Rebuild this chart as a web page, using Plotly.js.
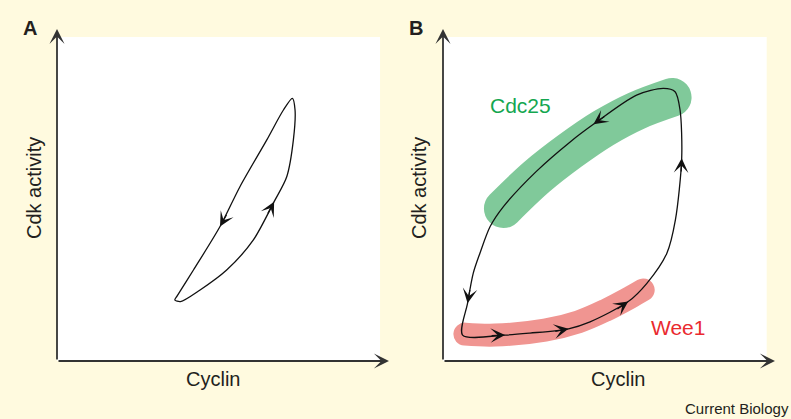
<!DOCTYPE html>
<html>
<head>
<meta charset="utf-8">
<script src="https://cdn.plot.ly/plotly-3.0.1.min.js"></script>
<style>html,body{margin:0;padding:0;background:#fffadf;}#chart{width:791px;height:419px;}</style>
</head>
<body>
<div id="chart"></div>
<script>
// ---- Data (schematic units: Cyclin on x, Cdk activity on y, 0..10) ----
// Panel A loop
const loopA_x = [3.55, 3.72, 4.31, 5.11, 5.91, 6.54, 6.92, 7.12, 7.17, 7.09, 6.82, 6.32, 5.51, 4.91, 4.11, 3.62, 3.55];
const loopA_y = [1.84, 1.79, 2.14, 2.74, 3.64, 4.80, 5.55, 6.66, 7.56, 7.91, 7.56, 6.66, 5.25, 4.05, 2.74, 1.96, 1.84];
const arrowsA = [5, 13];

// Panel B loop
const loopB_x = [0.59, 1.87, 2.62, 3.78, 4.43, 5.58, 6.14, 6.74, 7.00, 7.19, 7.14, 6.99, 6.64, 5.83, 4.53, 3.83, 2.82, 1.82, 1.42, 1.11, 0.91, 0.74, 0.59];
const loopB_y = [0.78, 0.78, 0.84, 0.97, 1.18, 1.79, 2.34, 3.24, 4.25, 6.11, 7.56, 8.11, 8.21, 8.01, 7.13, 6.60, 5.72, 4.65, 4.05, 3.24, 2.64, 1.74, 0.78];
const arrowsB = [1, 3, 5, 9, 14, 21];

// Regulator bands (centre lines)
const cdc25_x = [1.82, 2.82, 3.83, 4.83, 5.83, 6.90];
const cdc25_y = [4.59, 5.54, 6.33, 7.01, 7.54, 7.94];
const wee1_x = [0.66, 1.57, 3.07, 4.08, 4.88, 5.68, 6.03];
const wee1_y = [0.81, 0.78, 0.93, 1.18, 1.52, 1.94, 2.14];

const panelLabels = ['A', 'B'];
const xTitle = 'Cyclin';
const yTitle = 'Cdk activity';
const bandLabels = ['Cdc25', 'Wee1'];
const credit = 'Current Biology';

// ---- Layout helpers ----
const W = 791, H = 419;
const px = v => v / W;
const py = v => 1 - v / H;
const FONT = 'Liberation Sans, Arial, Helvetica, sans-serif';
const TXT = '#231f20';

function band(x, y, color, width, xa, ya) {
  return {
    type: 'scatter', mode: 'lines', x: x, y: y, xaxis: xa, yaxis: ya,
    line: {color: color, width: width, shape: 'spline', smoothing: 1},
    hoverinfo: 'skip', showlegend: false
  };
}
function loop(x, y, xa, ya) {
  return {
    type: 'scatter', mode: 'lines', x: x, y: y, xaxis: xa, yaxis: ya,
    line: {color: '#111', width: 1.3, shape: 'spline', smoothing: 0.8},
    hoverinfo: 'skip', showlegend: false
  };
}
function curveArrows(x, y, idx, xr, yr) {
  return idx.map(i => {
    const dx = x[i + 1] - x[i - 1], dy = y[i + 1] - y[i - 1];
    const n = Math.hypot(dx, dy), L = 0.45;
    return {
      x: x[i], y: y[i], ax: x[i] - L * dx / n, ay: y[i] - L * dy / n,
      xref: xr, yref: yr, axref: xr, ayref: yr, text: '',
      showarrow: true, arrowhead: 3, arrowsize: 1.95, arrowwidth: 1.25,
      arrowcolor: '#111', standoff: 0
    };
  });
}
function axisArrows(xr, yr) {
  const base = {xref: xr, yref: yr, axref: xr, ayref: yr, text: '', showarrow: true,
    arrowhead: 3, arrowsize: 1.4, arrowwidth: 1.8, arrowcolor: '#333', standoff: 0};
  return [
    Object.assign({}, base, {x: 10, y: 0, ax: 0, ay: 0}),
    Object.assign({}, base, {x: 0, y: 10, ax: 0, ay: 0})
  ];
}
function txt(t, x, y, size, color, extra) {
  return Object.assign({text: t, x: px(x), y: py(y), xref: 'paper', yref: 'paper',
    xanchor: 'center', yanchor: 'middle',
    showarrow: false, font: {family: FONT, size: size, color: color}}, extra || {});
}

const traces = [
  loop(loopA_x, loopA_y, 'x', 'y'),
  band(cdc25_x, cdc25_y, '#80c99a', 39, 'x2', 'y2'),
  band(wee1_x, wee1_y, '#f09591', 23, 'x2', 'y2'),
  loop(loopB_x, loopB_y, 'x2', 'y2')
];

const yDom = [py(361), py(29)];
const ax = (d) => ({domain: d, range: [0, 10], visible: false, fixedrange: true});

const layout = {
  width: W, height: H,
  margin: {l: 0, r: 0, t: 0, b: 0},
  paper_bgcolor: '#fffadf', plot_bgcolor: 'rgba(0,0,0,0)',
  showlegend: false,
  xaxis: ax([px(57), px(389)]), yaxis: Object.assign(ax(yDom), {anchor: 'x'}),
  xaxis2: Object.assign(ax([px(443), px(775)]), {anchor: 'y2'}),
  yaxis2: Object.assign(ax(yDom), {anchor: 'x2'}),
  shapes: [
    {type: 'rect', xref: 'x', yref: 'y', x0: 0, x1: 9.73, y0: 0, y1: 9.76, fillcolor: '#ffffff', line: {width: 0}, layer: 'below'},
    {type: 'rect', xref: 'x2', yref: 'y2', x0: 0, x1: 9.75, y0: 0, y1: 9.76, fillcolor: '#ffffff', line: {width: 0}, layer: 'below'}
  ],
  annotations: [].concat(
    axisArrows('x', 'y'),
    axisArrows('x2', 'y2'),
    curveArrows(loopA_x, loopA_y, arrowsA, 'x', 'y'),
    curveArrows(loopB_x, loopB_y, arrowsB, 'x2', 'y2'),
    [
      txt('<b>' + panelLabels[0] + '</b>', 30, 28, 20, TXT),
      txt('<b>' + panelLabels[1] + '</b>', 416, 28, 20, TXT),
      txt(yTitle, 34, 188, 20, TXT, {textangle: -90}),
      txt(yTitle, 419, 188, 20, TXT, {textangle: -90}),
      txt(xTitle, 213, 379, 20, TXT),
      txt(xTitle, 618, 379, 20, TXT),
      txt(bandLabels[0], 520, 106, 21, '#14a650'),
      txt(bandLabels[1], 678, 327, 21, '#ea2a2f'),
      txt(credit, 683, 408, 15, TXT, {xanchor: 'left'})
    ]
  )
};

Plotly.newPlot('chart', traces, layout, {displayModeBar: false, staticPlot: true}).then(gd => {
  // rounded ends for the brush-stroke bands and the curves
  gd.querySelectorAll('.scatterlayer .js-line').forEach(p => {
    p.style.strokeLinecap = 'round';
    p.style.strokeLinejoin = 'round';
  });
});
</script>
</body>
</html>
